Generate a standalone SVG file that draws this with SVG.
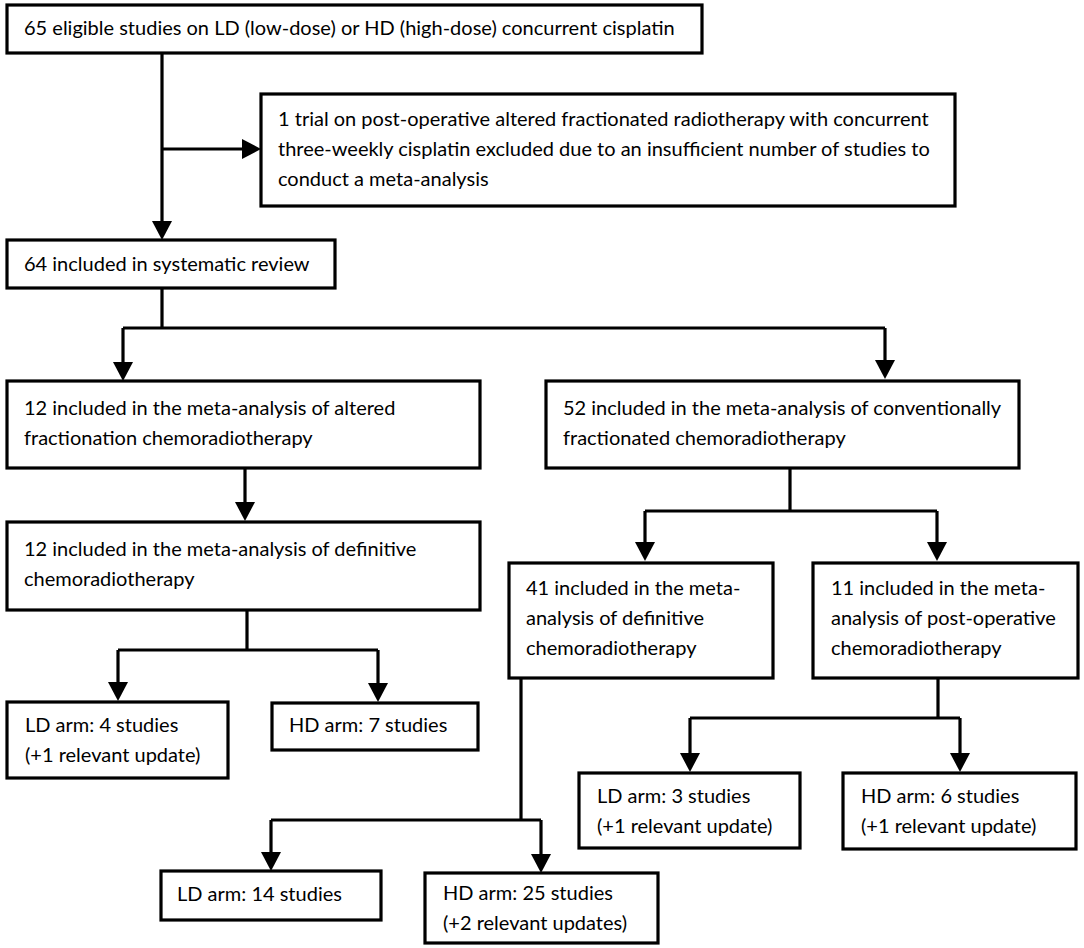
<svg xmlns="http://www.w3.org/2000/svg" width="1084" height="948" viewBox="0 0 1084 948">
<defs>
<style>
.box{fill:#fff;stroke:#000;stroke-width:3.2}
.t{font-family:Lato,"Liberation Sans",sans-serif;font-size:20px;fill:#000}
.c{fill:none;stroke:#000;stroke-width:3.2}
</style>
<marker id="ah" markerUnits="userSpaceOnUse" viewBox="0 0 19 20" refX="9" refY="10" markerWidth="19" markerHeight="20" orient="auto">
<path d="M0,0 L19,10 L0,20 z" fill="#000"/>
</marker>
</defs>
<rect width="1084" height="948" fill="#fff"/>
<g id="connectors">
<path class="c" d="M162,53 V230" marker-end="url(#ah)"/>
<path class="c" d="M162,149 H251" marker-end="url(#ah)"/>
<path class="c" d="M162,288 V328 M123,328 H885"/>
<path class="c" d="M123,328 V371" marker-end="url(#ah)"/>
<path class="c" d="M885,328 V369" marker-end="url(#ah)"/>
<path class="c" d="M245,468 V511" marker-end="url(#ah)"/>
<path class="c" d="M247,610 V650 M118,650 H378"/>
<path class="c" d="M118,650 V691" marker-end="url(#ah)"/>
<path class="c" d="M378,650 V692" marker-end="url(#ah)"/>
<path class="c" d="M790,468 V511 M645,511 H937"/>
<path class="c" d="M645,511 V551" marker-end="url(#ah)"/>
<path class="c" d="M937,511 V551" marker-end="url(#ah)"/>
<path class="c" d="M521,678 V820 M271,820 H541"/>
<path class="c" d="M271,820 V861" marker-end="url(#ah)"/>
<path class="c" d="M541,820 V863" marker-end="url(#ah)"/>
<path class="c" d="M938,678 V718 M690,718 H960"/>
<path class="c" d="M690,718 V762" marker-end="url(#ah)"/>
<path class="c" d="M960,718 V762" marker-end="url(#ah)"/>
</g>
<g id="n1"><rect class="box" x="7" y="5" width="695" height="48"/>
<text class="t" x="24" y="35">65 eligible studies on LD (low-dose) or HD (high-dose) concurrent cisplatin</text></g>
<g id="n2"><rect class="box" x="261" y="94" width="694" height="112"/>
<text class="t" x="278" y="126">1 trial on post-operative altered fractionated radiotherapy with concurrent</text>
<text class="t" x="278" y="156">three-weekly cisplatin excluded due to an insufficient number of studies to</text>
<text class="t" x="278" y="186">conduct a meta-analysis</text></g>
<g id="n3"><rect class="box" x="7" y="240" width="328" height="48"/>
<text class="t" x="24" y="271">64 included in systematic review</text></g>
<g id="n4"><rect class="box" x="7" y="381" width="473" height="87"/>
<text class="t" x="24" y="415">12 included in the meta-analysis of altered</text>
<text class="t" x="24" y="445">fractionation chemoradiotherapy</text></g>
<g id="n5"><rect class="box" x="546" y="381" width="473" height="87"/>
<text class="t" x="563" y="415">52 included in the meta-analysis of conventionally</text>
<text class="t" x="563" y="445">fractionated chemoradiotherapy</text></g>
<g id="n6"><rect class="box" x="7" y="522" width="473" height="88"/>
<text class="t" x="24" y="556">12 included in the meta-analysis of definitive</text>
<text class="t" x="24" y="586">chemoradiotherapy</text></g>
<g id="n7"><rect class="box" x="7" y="702" width="221" height="76"/>
<text class="t" x="25" y="732">LD arm: 4 studies</text>
<text class="t" x="25" y="762">(+1 relevant update)</text></g>
<g id="n8"><rect class="box" x="272" y="703" width="206" height="47"/>
<text class="t" x="289" y="732">HD arm: 7 studies</text></g>
<g id="n9"><rect class="box" x="509" y="563" width="264" height="115"/>
<text class="t" x="526" y="595">41 included in the meta-</text>
<text class="t" x="526" y="625">analysis of definitive</text>
<text class="t" x="526" y="655">chemoradiotherapy</text></g>
<g id="n10"><rect class="box" x="813" y="563" width="265" height="115"/>
<text class="t" x="831" y="595">11 included in the meta-</text>
<text class="t" x="831" y="625">analysis of post-operative</text>
<text class="t" x="831" y="655">chemoradiotherapy</text></g>
<g id="n11"><rect class="box" x="161" y="871" width="220" height="49"/>
<text class="t" x="177" y="901">LD arm: 14 studies</text></g>
<g id="n12"><rect class="box" x="425" y="873" width="233" height="70"/>
<text class="t" x="443" y="900">HD arm: 25 studies</text>
<text class="t" x="443" y="930">(+2 relevant updates)</text></g>
<g id="n13"><rect class="box" x="579" y="773" width="221" height="75"/>
<text class="t" x="597" y="803">LD arm: 3 studies</text>
<text class="t" x="597" y="833">(+1 relevant update)</text></g>
<g id="n14"><rect class="box" x="843" y="773" width="233" height="76"/>
<text class="t" x="861" y="803">HD arm: 6 studies</text>
<text class="t" x="861" y="833">(+1 relevant update)</text></g>
</svg>
